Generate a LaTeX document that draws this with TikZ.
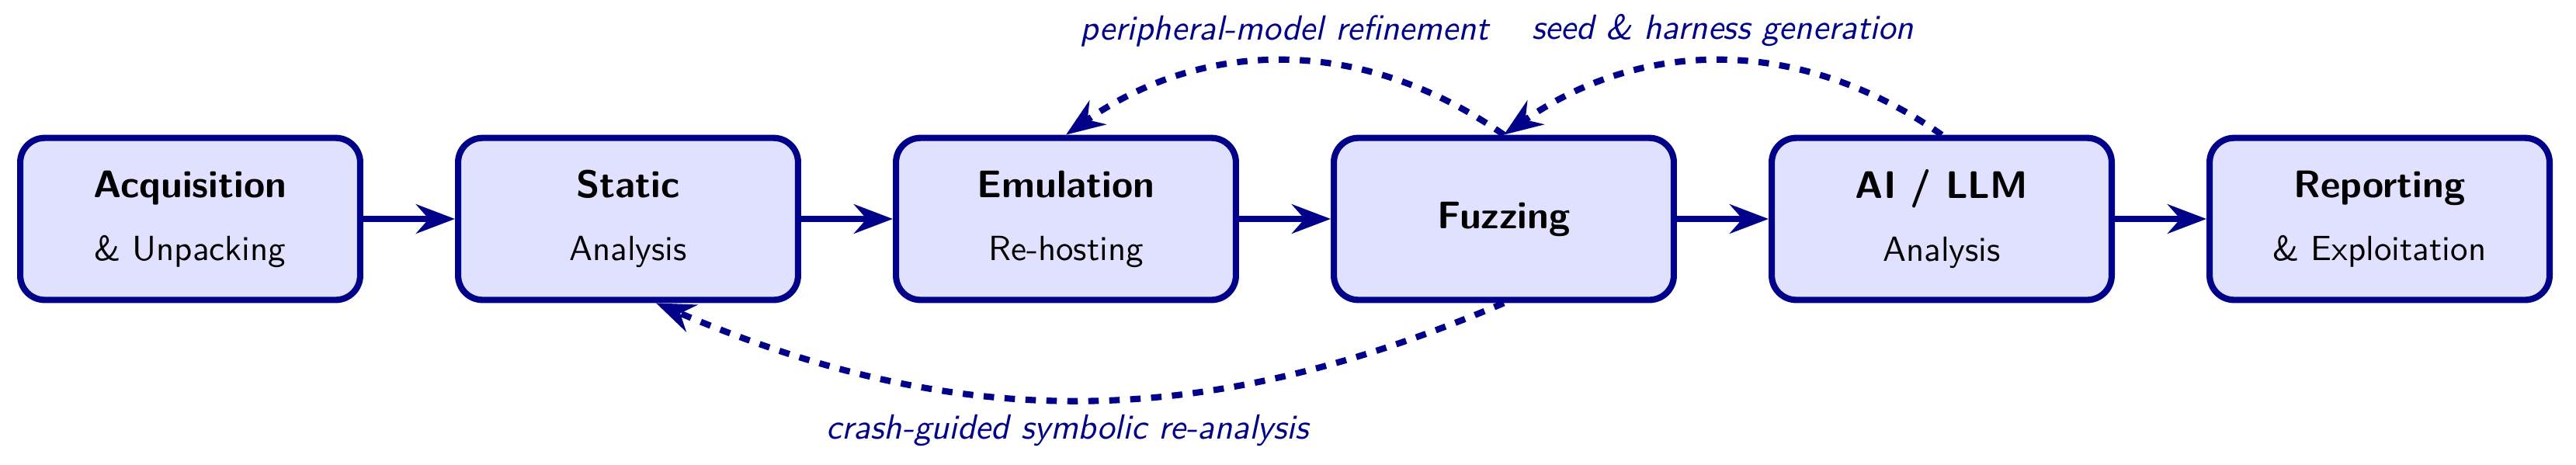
\documentclass[tikz,border=0pt]{standalone}
\usepackage{tikz}
\usetikzlibrary{arrows.meta}
\definecolor{pipeblue}{RGB}{0,0,136}

\begin{document}
\begin{tikzpicture}[
    x=0.7811cm, y=0.7811cm,
    stagebox/.style={draw=pipeblue, fill=blue!12, line width=1.8pt, rounded corners=7pt, minimum width=3.42cm, minimum height=1.63cm, align=center, font=\sffamily},
    flowarrow/.style={-{Stealth}, line width=1.8pt, draw=pipeblue},
    feedback/.style={-{Stealth}, line width=1.8pt, draw=pipeblue, dashed},
    fblabel/.style={font=\sffamily\itshape, text=pipeblue},
  ]
    \useasboundingbox (0,0) rectangle (33.18,5.98);
    % pipeline stages
    \node[stagebox] (acq) at (2.45,3.16) {{\fontsize{11pt}{13pt}\selectfont\bfseries Acquisition}\\[6pt]\& Unpacking};
    \node[stagebox] (static) at (8.09,3.16) {{\fontsize{11pt}{13pt}\selectfont\bfseries Static}\\[6pt]Analysis};
    \node[stagebox] (emu) at (13.73,3.16) {{\fontsize{11pt}{13pt}\selectfont\bfseries Emulation}\\[6pt]Re-hosting};
    \node[stagebox] (fuzz) at (19.37,3.16) {\fontsize{11pt}{13pt}\selectfont\bfseries Fuzzing};
    \node[stagebox] (ai) at (25.01,3.16) {{\fontsize{11pt}{13pt}\selectfont\bfseries AI / LLM}\\[6pt]Analysis};
    \node[stagebox] (report) at (30.65,3.16) {{\fontsize{11pt}{13pt}\selectfont\bfseries Reporting}\\[6pt]\& Exploitation};
    \draw[flowarrow] (acq) -- (static);
    \draw[flowarrow] (static) -- (emu);
    \draw[flowarrow] (emu) -- (fuzz);
    \draw[flowarrow] (fuzz) -- (ai);
    \draw[flowarrow] (ai) -- (report);
    % feedback loops
    \draw[feedback] (fuzz.north) to[bend right=35] node[fblabel, above] {peripheral-model refinement} (emu.north);
    \draw[feedback] (ai.north) to[bend right=35] node[fblabel, above] {seed \& harness generation} (fuzz.north);
    \draw[feedback] (fuzz.south) to[bend left=23] node[fblabel, below, pos=0.515] {crash-guided symbolic re-analysis} ([xshift=8pt]static.south);
\end{tikzpicture}
\end{document}
